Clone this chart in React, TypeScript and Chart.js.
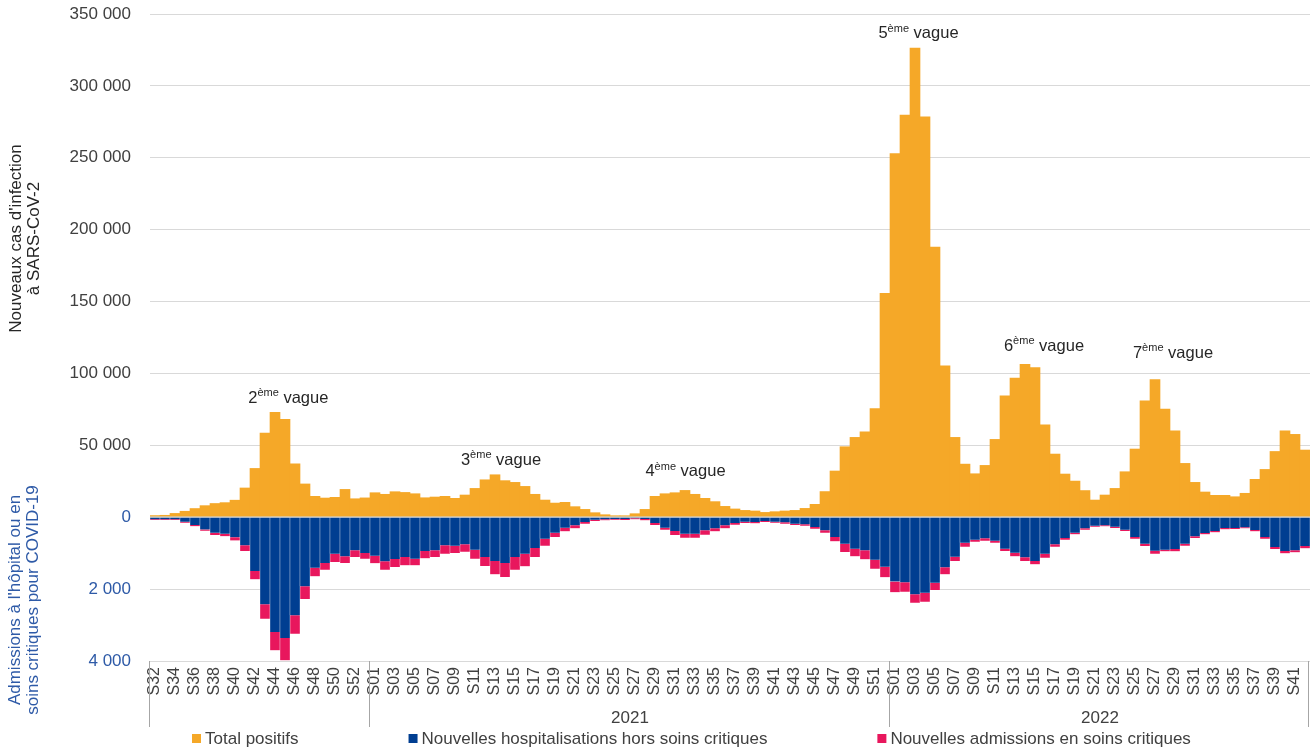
import React, { useEffect, useRef } from 'react';
import { Chart, registerables } from 'chart.js';

Chart.register(...registerables);

// ---------- DATA ----------
const WEEKS_2020 = ['S32','S33','S34','S35','S36','S37','S38','S39','S40','S41','S42','S43','S44','S45','S46','S47','S48','S49','S50','S51','S52','S53'];
const WEEKS_2021 = ['S01','S02','S03','S04','S05','S06','S07','S08','S09','S10','S11','S12','S13','S14','S15','S16','S17','S18','S19','S20','S21','S22','S23','S24','S25','S26','S27','S28','S29','S30','S31','S32','S33','S34','S35','S36','S37','S38','S39','S40','S41','S42','S43','S44','S45','S46','S47','S48','S49','S50','S51','S52'];
const WEEKS_2022 = ['S01','S02','S03','S04','S05','S06','S07','S08','S09','S10','S11','S12','S13','S14','S15','S16','S17','S18','S19','S20','S21','S22','S23','S24','S25','S26','S27','S28','S29','S30','S31','S32','S33','S34','S35','S36','S37','S38','S39','S40','S41','S42'];
const YEAR_LABELS = ['', '2021', '2022'];

const TOTAL_POSITIFS_2020 = [1000,1200,2500,4000,5900,7900,9400,10000,11700,20200,33800,58400,72800,67900,37000,23000,14400,13200,13700,19200,12700,13300];
const TOTAL_POSITIFS_2021 = [16900,15800,17600,17100,16200,13400,13900,14400,13000,15300,19900,25900,29400,25300,24100,21300,15800,11800,9700,10200,7200,5300,3000,1600,900,900,2300,5300,14400,16200,16900,18500,15800,13000,10700,7400,5600,4600,4200,3200,3700,4200,4600,6000,8800,17700,32000,48900,55400,59300,75500,155700];
const TOTAL_POSITIFS_2022 = [252800,279700,326200,278500,187900,105200,55400,36800,30100,35900,54000,84300,96600,106300,104000,64200,43800,29900,25000,18400,11800,15300,19900,31500,47300,80900,95700,75100,60000,37300,24100,17400,15100,15100,14100,16500,26200,33100,45600,60000,57500,46600];

const HOSPIT_2020 = [65,65,65,130,225,345,440,465,560,787,1500,2426,3194,3361,2731,1926,1407,1278,1019,1093,926,1000];
const HOSPIT_2021 = [1075,1232,1167,1111,1157,944,926,787,796,759,907,1111,1222,1278,1111,1019,861,602,435,296,231,139,74,65,55,55,37,55,167,296,389,463,463,370,315,231,167,130,139,111,130,148,185,204,278,370,556,741,880,926,1185,1385];
const HOSPIT_2022 = [1792,1815,2148,2102,1824,1398,1102,713,630,593,657,880,991,1120,1222,1019,759,583,435,315,241,231,269,352,556,741,935,907,889,741,537,444,389,306,306,287,361,556,833,944,926,806];

const CRITIQUES_2020 = [18,18,18,27,30,40,60,70,90,157,232,398,510,621,510,352,241,185,231,185,185,157];
const CRITIQUES_2021 = [210,231,222,232,186,204,185,232,204,204,250,250,371,389,352,351,250,194,121,102,84,46,37,28,19,28,28,38,55,56,111,111,111,121,83,84,46,37,37,28,27,37,37,37,46,65,120,231,213,250,250,287];
const CRITIQUES_2022 = [296,259,232,250,204,195,120,111,55,64,56,64,102,102,93,111,65,47,46,37,28,28,37,37,46,65,84,47,65,55,46,37,37,37,27,28,37,46,56,65,55,64];

const SERIES_LABELS = ['Total positifs', 'Nouvelles hospitalisations hors soins critiques', 'Nouvelles admissions en soins critiques'];
const CASES_TITLE = ["Nouveaux cas d'infection", 'à SARS-CoV-2'];
const ADMISSIONS_TITLE = ["Admissions à l'hôpital ou en", 'soins critiques pour COVID-19'];
const CASES_MAX = 350000;
const CASES_STEP = 50000;
const ADMISSIONS_MAX = 4000;
const ADMISSIONS_STEP = 2000;

// wave annotations: number, x (category index), y (cases value)
const WAVE_NUMBERS = ['2', '3', '4', '5', '6', '7'];
const WAVE_X = [13.33, 34.6, 53.05, 76.35, 88.9, 101.8];
const WAVE_Y = [83600, 40700, 32700, 337200, 119900, 114900];

// ---------- STYLE ----------
const FONT = '"Liberation Sans", Arial, Helvetica, sans-serif';
const TEXT = '#404040';
const TITLE_COLOR = '#262626';
const BLUE_TEXT = '#2E5AA7';
const ORANGE = '#F5A828';
const BLUE = '#003E91';
const PINK = '#E8175D';
const GRID = '#D9D9D9';

const fmt = (v: number) => String(Math.round(v)).replace(/\B(?=(\d{3})+(?!\d))/g, ' ');

const YEAR_GROUPS = [WEEKS_2020, WEEKS_2021, WEEKS_2022];

const decorPlugin = {
  id: 'decor',
  afterDatasetsDraw(chart: any) {
    const { ctx, chartArea } = chart;
    const y2 = chart.scales.y2;
    const zy = y2.getPixelForValue(0);
    ctx.save();
    ctx.fillStyle = '#C9C9C9';
    ctx.fillRect(chartArea.left, Math.round(zy) - 0.5, chartArea.right - chartArea.left, 1);
    ctx.restore();
  },
  afterDraw(chart: any) {
    const { ctx, chartArea } = chart;
    const x = chart.scales.x;
    const y = chart.scales.y;
    const y2 = chart.scales.y2;
    const n = chart.data.labels.length;
    const step = (x.right - x.left) / n;
    ctx.save();

    // year separators and labels
    const top = chartArea.bottom;
    const h = 66;
    ctx.fillStyle = '#A6A6A6';
    let start = 0;
    YEAR_GROUPS.forEach((g, gi) => {
      const left = x.getPixelForValue(start) - step / 2;
      const right = x.getPixelForValue(start + g.length - 1) + step / 2;
      ctx.fillStyle = '#A6A6A6';
      ctx.fillRect(Math.round(left) - 1, top, 1, h);
      if (gi === YEAR_GROUPS.length - 1) ctx.fillRect(Math.round(right) - 2, top, 1, h);
      if (YEAR_LABELS[gi]) {
        ctx.fillStyle = TEXT;
        ctx.font = `17px ${FONT}`;
        ctx.textAlign = 'center';
        ctx.textBaseline = 'middle';
        ctx.fillText(YEAR_LABELS[gi], (left + right) / 2, top + 57);
      }
      start += g.length;
    });

    // axis titles (rotated)
    const drawRot = (lines: string[], cx: number, cy: number, color: string) => {
      ctx.save();
      ctx.translate(cx, cy);
      ctx.rotate(-Math.PI / 2);
      ctx.textAlign = 'center';
      ctx.textBaseline = 'middle';
      ctx.fillStyle = color;
      ctx.font = `17px ${FONT}`;
      lines.forEach((l, i) => ctx.fillText(l, 0, i * 18));
      ctx.restore();
    };
    drawRot(CASES_TITLE, 16, (y.top + y.bottom) / 2 - 27, TITLE_COLOR);
    drawRot(ADMISSIONS_TITLE, 15.5, (y2.top + y2.bottom) / 2 + 11, BLUE_TEXT);

    // wave annotations
    WAVE_NUMBERS.forEach((num, i) => {
      const cx = x.getPixelForValue(WAVE_X[i]);
      const cy = y.getPixelForValue(WAVE_Y[i]);
      const big = `16.5px ${FONT}`;
      const small = `11px ${FONT}`;
      ctx.font = big;
      const w1 = ctx.measureText(num).width;
      const w3 = ctx.measureText(' vague').width;
      ctx.font = small;
      const w2 = ctx.measureText('ème').width;
      let px = cx - (w1 + w2 + w3) / 2;
      const base = cy + 6;
      ctx.fillStyle = TITLE_COLOR;
      ctx.textAlign = 'left';
      ctx.textBaseline = 'alphabetic';
      ctx.font = big;
      ctx.fillText(num, px, base);
      px += w1;
      ctx.font = small;
      ctx.fillText('ème', px, base - 6.5);
      px += w2;
      ctx.font = big;
      ctx.fillText(' vague', px, base);
    });

    // legend
    ctx.font = `17px ${FONT}`;
    ctx.textAlign = 'left';
    ctx.textBaseline = 'alphabetic';
    let lx = chartArea.left + 42;
    const baseY = 744;
    chart.data.datasets.forEach((ds: any) => {
      ctx.fillStyle = ds.backgroundColor;
      ctx.fillRect(lx, 734, 9, 9);
      lx += 13;
      ctx.fillStyle = TEXT;
      ctx.fillText(ds.label, lx, baseY);
      lx += ctx.measureText(ds.label).width + 110;
    });
    ctx.restore();
  },
};

export default function App() {
  const ref = useRef<HTMLCanvasElement | null>(null);

  useEffect(() => {
    if (!ref.current) return;
    const labels = [...WEEKS_2020, ...WEEKS_2021, ...WEEKS_2022];
    const cases = [...TOTAL_POSITIFS_2020, ...TOTAL_POSITIFS_2021, ...TOTAL_POSITIFS_2022];
    const hosp = [...HOSPIT_2020, ...HOSPIT_2021, ...HOSPIT_2022];
    const crit = [...CRITIQUES_2020, ...CRITIQUES_2021, ...CRITIQUES_2022];
    const seam = { left: 0.5, right: 0.5, top: 0, bottom: 0 };

    const chart = new Chart(ref.current, {
      type: 'bar',
      data: {
        labels,
        datasets: [
          { label: SERIES_LABELS[0], data: cases, backgroundColor: ORANGE, yAxisID: 'y', borderWidth: 0, categoryPercentage: 1, barPercentage: 1 },
          { label: SERIES_LABELS[1], data: hosp, backgroundColor: BLUE, yAxisID: 'y2', borderColor: 'rgba(255,255,255,0.8)', borderWidth: seam, borderSkipped: false, categoryPercentage: 1, barPercentage: 1 },
          { label: SERIES_LABELS[2], data: crit, backgroundColor: PINK, yAxisID: 'y2', borderColor: 'rgba(255,255,255,0.8)', borderWidth: seam, borderSkipped: false, categoryPercentage: 1, barPercentage: 1 },
        ],
      } as any,
      options: {
        responsive: false,
        animation: false,
        layout: { padding: { top: 14, bottom: 20, left: 0, right: 0 } },
        plugins: { legend: { display: false }, tooltip: { enabled: false } },
        scales: {
          x: {
            type: 'category',
            stacked: true,
            offset: true,
            grid: { display: false, drawTicks: false },
            border: { display: true, color: GRID, width: 1 },
            ticks: {
              autoSkip: false,
              minRotation: 90,
              maxRotation: 90,
              padding: 6,
              color: TEXT,
              font: { size: 16, family: FONT },
              callback: function (this: any, value: any, index: number) {
                return index % 2 === 0 ? this.getLabelForValue(value) : '';
              },
            },
            afterFit: (s: any) => { s.height = 66; s.paddingLeft = 0; s.paddingRight = 0; },
          },
          y: {
            type: 'linear',
            position: 'left',
            stack: 'left',
            stackWeight: 503,
            weight: 2,
            stacked: true,
            min: 0,
            max: CASES_MAX,
            grid: { color: GRID, drawTicks: false },
            border: { display: false },
            ticks: {
              stepSize: CASES_STEP,
              padding: 19,
              color: TEXT,
              font: { size: 17, family: FONT },
              callback: (v: any) => (Number(v) === 0 ? '' : fmt(Number(v))),
            },
            afterFit: (s: any) => { s.width = 150; s.paddingTop = 0; s.paddingBottom = 0; },
          },
          y2: {
            type: 'linear',
            position: 'left',
            stack: 'left',
            stackWeight: 144,
            weight: 1,
            stacked: true,
            reverse: true,
            min: 0,
            max: ADMISSIONS_MAX,
            grid: { color: GRID, drawTicks: false },
            border: { display: false },
            ticks: {
              stepSize: ADMISSIONS_STEP,
              padding: 19,
              color: BLUE_TEXT,
              font: { size: 17, family: FONT },
              callback: (v: any) => fmt(Number(v)),
            },
            afterFit: (s: any) => { s.width = 150; s.paddingTop = 0; s.paddingBottom = 0; },
          },
        },
      } as any,
      plugins: [decorPlugin],
    });
    return () => chart.destroy();
  }, []);

  return (
    <div style={{ position: 'fixed', left: 0, top: 0, width: 1310, height: 747, background: '#fff' }}>
      <canvas ref={ref} width={1310} height={747} style={{ display: 'block' }} />
    </div>
  );
}
